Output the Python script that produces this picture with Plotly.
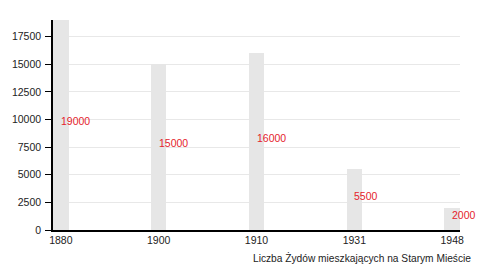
import plotly.graph_objects as go

years = ["1880", "1900", "1910", "1931", "1948"]
values = [19000, 15000, 16000, 5500, 2000]
y_ticks = [0, 2500, 5000, 7500, 10000, 12500, 15000, 17500]
x_title = "Liczba Żydów mieszkających na Starym Mieście"

FONT = "Liberation Sans, Arial, Helvetica"
L, R, T, B = 51, 460, 20, 230

fig = go.Figure()
fig.add_trace(go.Bar(
    x=list(range(len(years))), y=values, width=0.16,
    marker=dict(color="#e6e6e6", line=dict(width=0)),
    hoverinfo="skip",
))

for i, v in enumerate(values):
    fig.add_annotation(
        x=i, y=v / 2, text=str(v), showarrow=False,
        xanchor="left", yanchor="middle", yshift=4, xshift=-2,
        font=dict(color="#e5222c", size=10.5, family=FONT),
    )

fig.add_annotation(
    x=(473 - L) / (R - L), y=-(258 - B) / (B - T),
    xref="paper", yref="paper", text=x_title, showarrow=False,
    xanchor="right", yanchor="middle",
    font=dict(size=10.2, color="#222", family=FONT),
)

fig.update_layout(
    width=500, height=270,
    margin=dict(l=L, r=500 - R, t=T, b=270 - B),
    plot_bgcolor="white", paper_bgcolor="white",
    showlegend=False,
    font=dict(family=FONT, size=10.5, color="#222"),
    bargap=0,
)
fig.update_xaxes(
    range=[-0.08, 4.08], tickmode="array",
    tickvals=list(range(len(years))), ticktext=years,
    showgrid=False, showline=True, linecolor="black", linewidth=1.5,
    ticks="", zeroline=False, fixedrange=True,
)
fig.update_yaxes(
    range=[0, 19000], tickmode="array", tickvals=y_ticks,
    ticktext=[str(t) for t in y_ticks],
    showgrid=True, gridcolor="#e8e8e8", gridwidth=1,
    showline=True, linecolor="black", linewidth=1.5,
    ticks="outside", ticklen=6, tickcolor="black", zeroline=False,
    ticklabelstandoff=2,
    fixedrange=True,
)

fig.write_html("out.html")
